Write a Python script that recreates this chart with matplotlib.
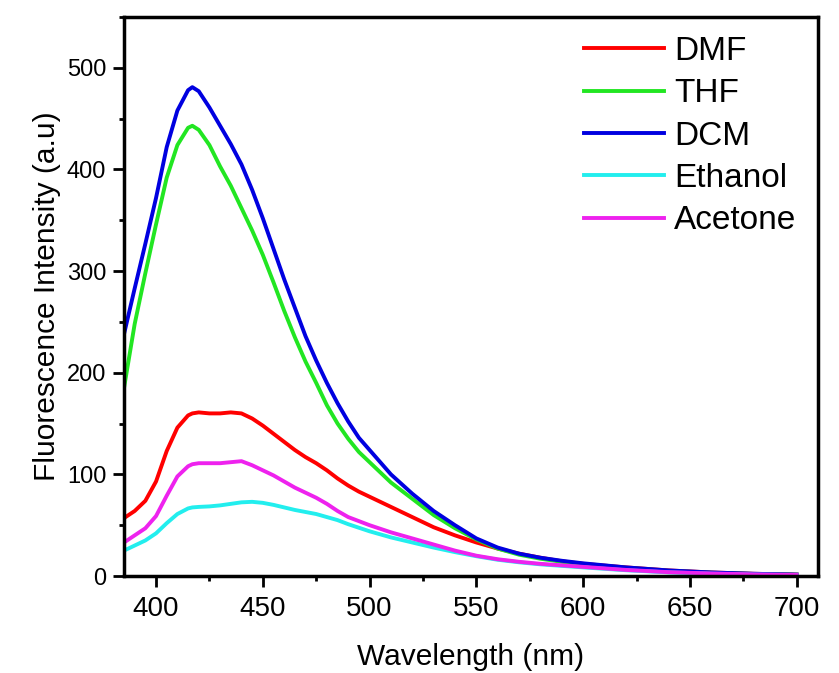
# Fluorescence emission spectra in different solvents

import matplotlib.pyplot as plt
from matplotlib.ticker import MultipleLocator

plt.rcParams['font.family'] = ['Liberation Sans', 'DejaVu Sans']

# Wavelength grid (nm)
wavelength = [385, 390, 395, 400, 405, 410, 415, 417, 420, 425, 430, 435, 440,
              445, 450, 455, 460, 465, 470, 475, 480, 485, 490, 495, 500, 510,
              520, 530, 540, 550, 560, 570, 580, 590, 600, 620, 640, 660, 680, 700]

dmf = [57, 64, 74, 93, 123, 146, 158, 160, 161, 160, 160, 161, 160,
       155, 148, 140, 132, 124, 117, 111, 104, 96, 89, 83, 78, 68,
       58, 48, 40, 33, 27, 22, 18, 14.5, 12, 8.5, 5.5, 3.5, 2.2, 1.4]

thf = [185, 248, 298, 346, 392, 424, 441, 443, 439, 424, 403, 384, 362,
       340, 316, 289, 261, 235, 211, 190, 168, 150, 135, 122, 112, 92,
       76, 60, 47, 36, 27, 21, 17, 14, 11.5, 8, 5, 3.2, 2, 1.3]

dcm = [238, 283, 327, 372, 422, 458, 478, 481, 477, 461, 443, 425, 405,
       380, 352, 322, 292, 264, 236, 212, 190, 170, 152, 136, 124, 100,
       81, 64, 50, 37, 28, 22, 18, 15, 12.5, 8.5, 5.5, 3.5, 2.2, 1.4]

ethanol = [25, 30, 35, 42, 52, 61, 66.5, 67.5, 68, 68.5, 69.5, 71, 72.5,
           73, 72, 70, 67.5, 65, 63, 61, 58, 55, 51, 47.5, 44, 38,
           33, 28, 23.5, 19.5, 16, 13.5, 11.5, 10, 8.5, 5.7, 3.6, 2.3, 1.5, 1]

acetone = [33, 40, 47, 59, 79, 98, 108, 110, 111, 111, 111, 112, 113,
           109, 104, 99, 93, 87, 82, 77, 71, 64, 58, 54, 50, 43,
           37, 31, 25, 20, 16.5, 14, 12, 10.5, 9, 6, 3.8, 2.5, 1.6, 1]

series = [
    ('DMF', dmf, '#ff0000'),
    ('THF', thf, '#22e622'),
    ('DCM', dcm, '#0000e0'),
    ('Ethanol', ethanol, '#22eeee'),
    ('Acetone', acetone, '#ee22ee'),
]

fig = plt.figure(figsize=(8.39, 6.73), dpi=100)
ax = fig.add_axes([0.1478, 0.1441, 0.975 - 0.1478, 0.9747 - 0.1441])

for name, vals, col in series:
    ax.plot(wavelength, vals, color=col, linewidth=2.8, label=name,
            solid_joinstyle='round')

ax.set_xlim(385, 710)
ax.set_ylim(0, 550)
ax.xaxis.set_major_locator(MultipleLocator(50))
ax.xaxis.set_minor_locator(MultipleLocator(25))
ax.yaxis.set_major_locator(MultipleLocator(100))
ax.yaxis.set_minor_locator(MultipleLocator(50))

for s in ax.spines.values():
    s.set_linewidth(2.5)
ax.tick_params(which='major', direction='out', length=7.7, width=2, top=False, right=False)
ax.tick_params(which='minor', direction='out', length=3.6, width=2, top=False, right=False)
ax.tick_params(axis='x', which='major', labelsize=20, pad=7)
ax.tick_params(axis='y', which='major', labelsize=17, pad=5)

ax.set_xlabel('Wavelength (nm)', fontsize=21.5, labelpad=15)
ax.set_ylabel('Fluorescence Intensity (a.u)', fontsize=21.5, labelpad=4)

ax.legend(loc='upper left', bbox_to_anchor=(584 / 839, 1 - 36 / 673),
          bbox_transform=fig.transFigure, frameon=False, fontsize=24,
          handlelength=2.4, handletextpad=0.3, labelspacing=0.34,
          borderpad=0, borderaxespad=0)

plt.savefig('out.png', dpi=100)
plt.close()
